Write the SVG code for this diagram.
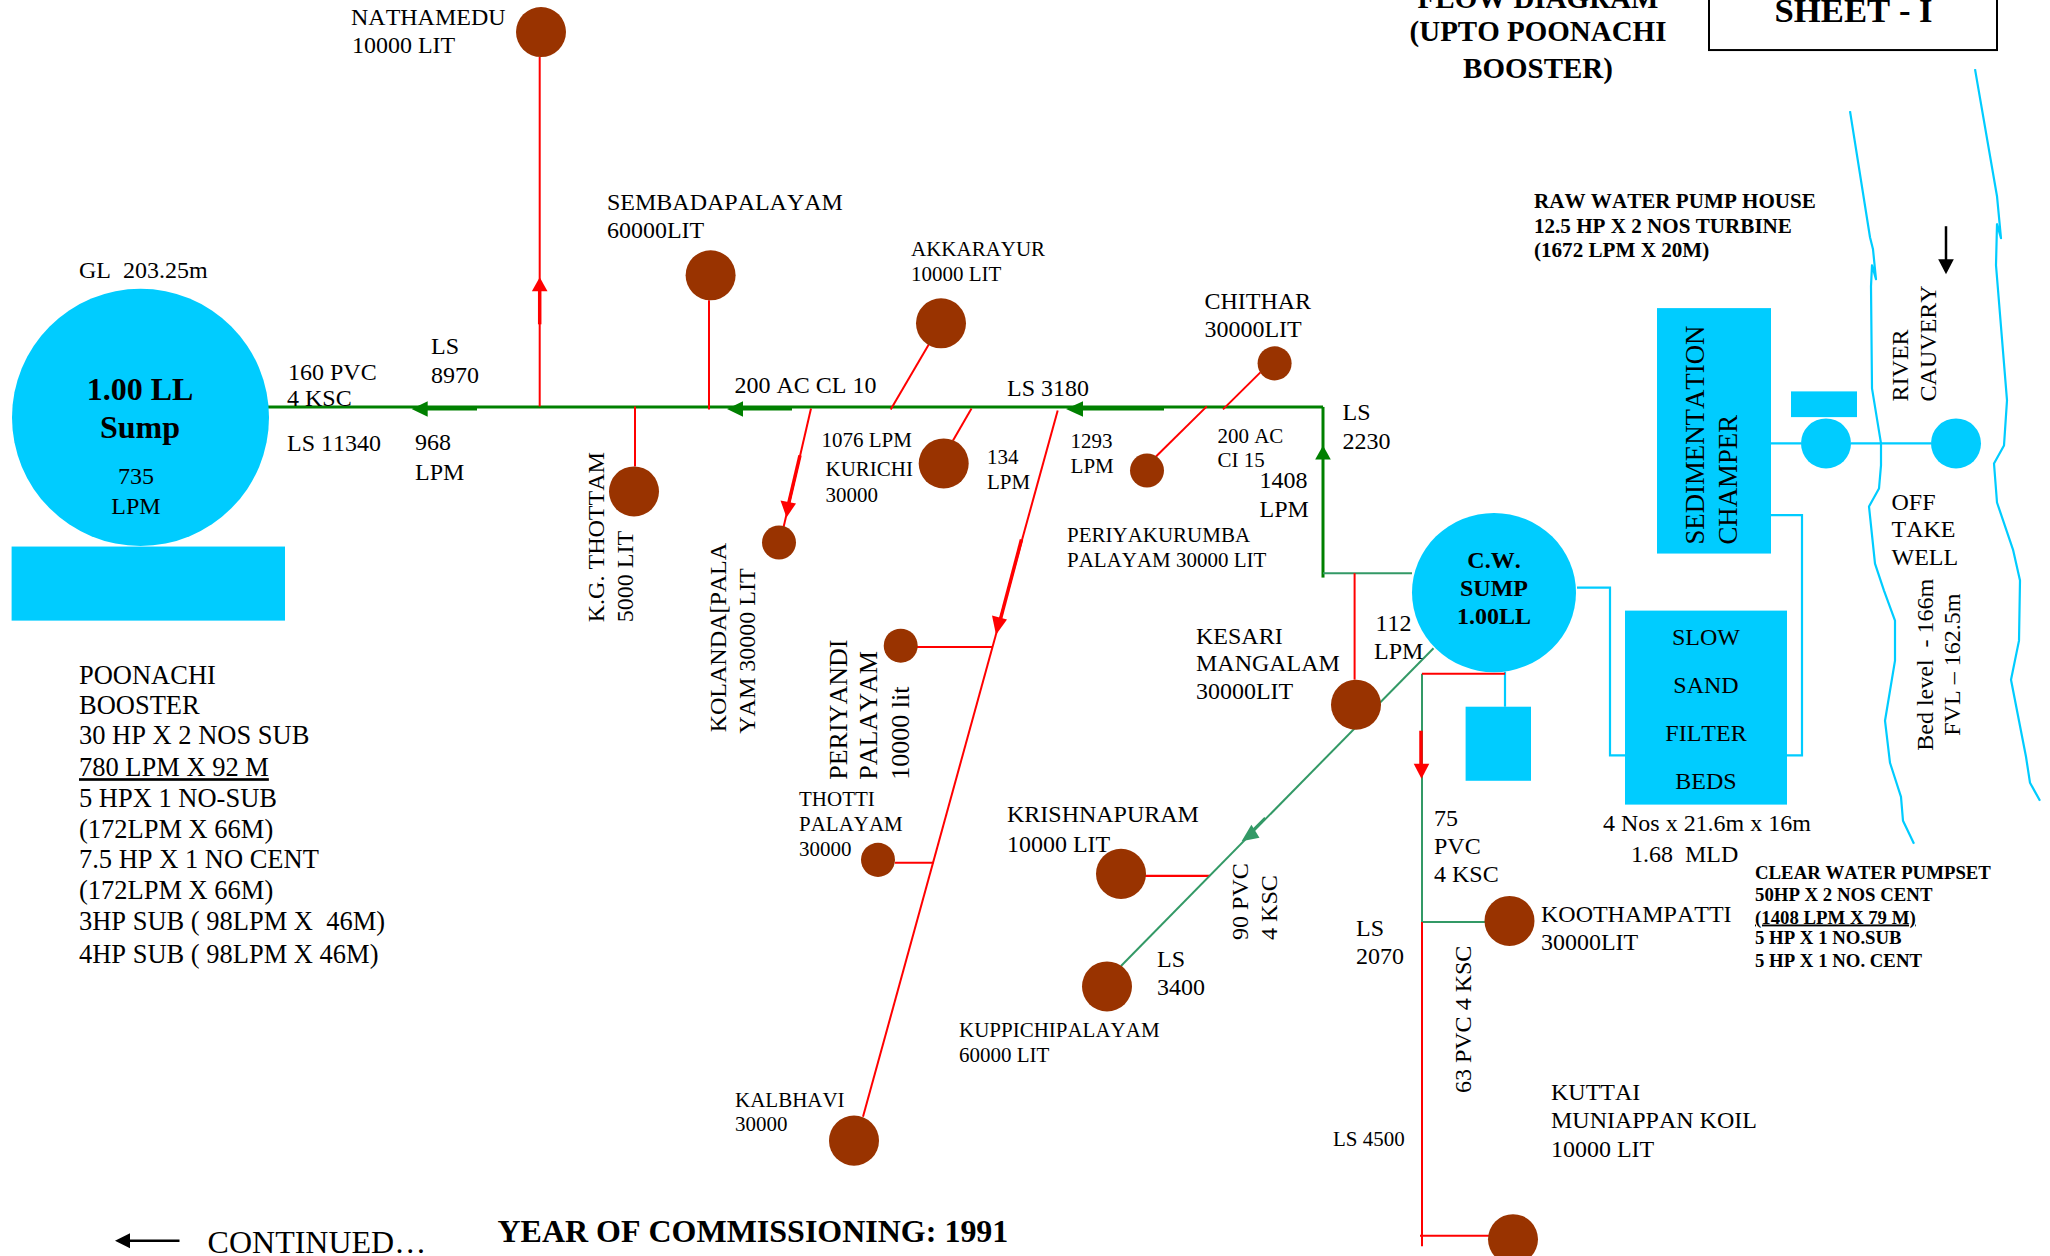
<svg xmlns="http://www.w3.org/2000/svg" width="2050" height="1256" viewBox="0 0 2050 1256">
<style>
text{font-family:"Liberation Serif","Times New Roman",serif;fill:#000;white-space:pre;font-kerning:none}
.m{font-size:24px}.s{font-size:21px}.l{font-size:26.5px}.b{font-weight:bold}.c{text-anchor:middle}
.u{text-decoration:underline}
.tank{fill:#993300}.cy{fill:#00ccff}
line,path,polyline{fill:none}
.r{stroke:#f00;stroke-width:2}.rt{stroke:#f00;stroke-width:3.5}
.gt{stroke:#008000;stroke-width:3}
.sg{stroke:#339966;stroke-width:2}
.w{stroke:#00ccff;stroke-width:2.2}
.ar{fill:#f00}.ag{fill:#008000}.asg{fill:#339966}.ak{fill:#000}
</style>
<rect width="2050" height="1256" fill="#fff"/>
<g transform="scale(1 1.001)">
<g id="connectors">
<path class="w" d="M1771 443H1801M1851 443H1931M1577 587H1610V754.7H1625M1771 514.7H1802V754.7H1787M1505 671V706"/>
<path class="w" stroke-linejoin="round" d="M1850 111L1870 237L1873 249L1876 279L1872 265L1871 286L1872 388L1881 443L1881 465L1879 488L1869 506L1875 563L1884 590L1895 620L1895 660L1885 720L1890 762L1901 796L1903 820L1914 843"/>
<path class="w" stroke-linejoin="round" d="M1975 69L1997 196L2001 238L1997 224L1996 265L2007 400L2004 445L1994 463L1997 502L2013 549L2020 580L2019 640L2011 679L2026 756L2030 782L2040 800"/>
<line class="gt" x1="268" y1="406.5" x2="1323" y2="406.5"/>
<line class="gt" x1="1323" y1="406.5" x2="1323" y2="577"/>
<line class="sg" x1="1323" y1="572.6" x2="1412" y2="572.6"/>
<line class="gt" x1="425" y1="408.6" x2="477" y2="408.6"/>
<polygon class="ag" points="411.6,408.6 427.7,400.8 427.7,416.4"/>
<line class="gt" x1="740" y1="408.6" x2="792" y2="408.6"/>
<polygon class="ag" points="727,408.6 743,400.8 743,416.4"/>
<line class="gt" x1="1080" y1="408.6" x2="1164" y2="408.6"/>
<polygon class="ag" points="1066,408.6 1083,400.8 1083,416.4"/>
<polygon class="ag" points="1323,445 1315.2,459 1330.8,459"/>
<line class="r" x1="539.7" y1="57" x2="539.7" y2="406"/>
<line class="rt" x1="539.7" y1="285" x2="539.7" y2="324"/>
<polygon class="ar" points="539.7,277 531.9,291 547.5,291"/>
<line class="r" x1="635" y1="406" x2="635" y2="466"/>
<line class="r" x1="709" y1="300" x2="709" y2="409"/>
<line class="r" x1="933" y1="337" x2="890.7" y2="409"/>
<line class="r" x1="1260.4" y1="372" x2="1223" y2="409"/>
<line class="r" x1="971.5" y1="408" x2="953" y2="440"/>
<line class="r" x1="1206.8" y1="406" x2="1156" y2="456"/>
<line class="r" x1="811" y1="408" x2="783.6" y2="526.5"/>
<line class="rt" x1="800" y1="455" x2="787" y2="510"/>
<polygon class="ar" points="786.5,517 780.5,500 796,503"/>
<line class="r" x1="1057.7" y1="410" x2="863" y2="1115.7"/>
<line class="rt" x1="1021.5" y1="539" x2="999" y2="624"/>
<polygon class="ar" points="996,634 992,615 1007,619"/>
<line class="r" x1="917" y1="646.4" x2="992.5" y2="646.4"/>
<line class="r" x1="895" y1="862" x2="933.6" y2="862"/>
<line class="r" x1="1145" y1="875" x2="1210" y2="875"/>
<line class="sg" x1="1121" y1="965" x2="1433.5" y2="647.6"/>
<line class="sg" x1="1250" y1="832" x2="1265" y2="817" stroke-width="3"/>
<polygon class="asg" points="1241.6,840.3 1251.4,824 1259.5,837"/>
<line class="r" x1="1354.6" y1="572.6" x2="1354.6" y2="679"/>
<path class="sg" d="M1422 673V921H1485"/>
<path class="r" d="M1422 673H1505" stroke-width="2.5"/>
<line class="rt" x1="1421" y1="730" x2="1421" y2="766"/>
<polygon class="ar" points="1421.5,778 1413.7,763 1429.3,763"/>
<line class="r" x1="1422" y1="921" x2="1422" y2="1245" stroke-width="2.5"/>
<line class="r" x1="1420" y1="1234.6" x2="1490" y2="1234.6" stroke-width="2.5"/>
<line stroke="#000" stroke-width="2.5" x1="1946" y1="226" x2="1946" y2="262"/>
<polygon class="ak" points="1946,274 1938.2,259 1953.8,259"/>
<line stroke="#000" stroke-width="2.5" x1="128" y1="1239.5" x2="179.5" y2="1239.5"/>
<polygon class="ak" points="115,1239.5 130,1232 130,1247"/>
</g>
<g id="sump">
<circle class="cy" cx="140.5" cy="417" r="128.5"/>
<rect class="cy" x="11.6" y="546" width="273.4" height="74"/>
<text class="b c" font-size="32" x="140" y="400">1.00 LL</text>
<text class="b c" font-size="32" x="140" y="437.5">Sump</text>
<text class="m c" x="136" y="484">735</text>
<text class="m c" x="136" y="513">LPM</text>
<text class="m" x="79" y="278">GL  203.25m</text>
</g>
<g id="labels-main">
<text class="m" x="288" y="379.6">160 PVC</text>
<text class="m" x="287" y="406">4 KSC</text>
<text class="m" x="287" y="451">LS 11340</text>
<text class="m" x="431" y="354">LS</text>
<text class="m" x="431" y="383">8970</text>
<text class="m" x="415" y="450">968</text>
<text class="m" x="415" y="479.6">LPM</text>
<text class="m" x="734.5" y="393">200 AC CL 10</text>
<text class="m" x="1007" y="396">LS 3180</text>
<text class="s" x="821.5" y="447">1076 LPM</text>
<text class="s" x="987" y="464">134</text>
<text class="s" x="987" y="489">LPM</text>
<text class="s" x="1070.6" y="448">1293</text>
<text class="s" x="1070.6" y="473">LPM</text>
<text class="s" x="1217.5" y="443">200 AC</text>
<text class="s" x="1217.5" y="467">CI 15</text>
<text class="m" x="1259.5" y="488">1408</text>
<text class="m" x="1259.5" y="516">LPM</text>
<text class="m" x="1342.5" y="420">LS</text>
<text class="m" x="1342.5" y="448.6">2230</text>
<text class="m" x="1375.4" y="630.6">112</text>
<text class="m" x="1374" y="658.5">LPM</text>
<text class="m" transform="translate(1248 939) rotate(-90)">90 PVC</text>
<text class="m" transform="translate(1277 939) rotate(-90)">4 KSC</text>
<text class="m" x="1157" y="966">LS</text>
<text class="m" x="1157" y="994">3400</text>
<text class="s" x="1333" y="1145">LS 4500</text>
<text class="m" x="1434" y="825">75</text>
<text class="m" x="1434" y="853">PVC</text>
<text class="m" x="1434" y="881">4 KSC</text>
<text class="m" x="1356" y="935">LS</text>
<text class="m" x="1356" y="963">2070</text>
<text class="m" transform="translate(1470.5 1092) rotate(-90)">63 PVC 4 KSC</text>
</g>
<g id="nathamedu"><circle class="tank" cx="541" cy="32" r="25"/><text class="m" x="351" y="25">NATHAMEDU</text><text class="m" x="352" y="53">10000 LIT</text></g>
<g id="sembadapalayam"><circle class="tank" cx="710.6" cy="275" r="25"/><text class="m" x="607" y="210">SEMBADAPALAYAM</text><text class="m" x="607" y="238">60000LIT</text></g>
<g id="kg-thottam"><circle class="tank" cx="634" cy="491" r="25"/><text class="m" transform="translate(603.6 621.6) rotate(-90)">K.G. THOTTAM</text><text class="m" transform="translate(633 621.6) rotate(-90)">5000 LIT</text></g>
<g id="akkarayur"><circle class="tank" cx="941" cy="323" r="25"/><text class="s" x="911" y="256">AKKARAYUR</text><text class="s" x="911" y="281">10000 LIT</text></g>
<g id="chithar"><circle class="tank" cx="1274.6" cy="363" r="17"/><text class="m" x="1204.5" y="309">CHITHAR</text><text class="m" x="1204.5" y="336.7">30000LIT</text></g>
<g id="kurichi"><circle class="tank" cx="943.7" cy="463" r="25"/><text class="s" x="825.5" y="476">KURICHI</text><text class="s" x="825.5" y="501">30000</text></g>
<g id="periyakurumba"><circle class="tank" cx="1147" cy="470" r="17"/><text class="s" x="1067" y="541">PERIYAKURUMBA</text><text class="s" x="1067" y="566">PALAYAM 30000 LIT</text></g>
<g id="kolanda"><circle class="tank" cx="779" cy="542" r="17"/><text class="m" transform="translate(726 731.6) rotate(-90)">KOLANDA[PALA</text><text class="m" transform="translate(754.6 733) rotate(-90)">YAM 30000 LIT</text></g>
<g id="periyandi"><circle class="tank" cx="900.7" cy="645" r="17"/><text font-size="26" transform="translate(846.5 779) rotate(-90)">PERIYANDI</text><text font-size="26" transform="translate(877 779) rotate(-90)">PALAYAM</text><text font-size="26" transform="translate(909 779) rotate(-90)">10000 lit</text></g>
<g id="thotti"><circle class="tank" cx="878" cy="859" r="17"/><text class="s" x="799" y="805">THOTTI</text><text class="s" x="799" y="830">PALAYAM</text><text class="s" x="799" y="855">30000</text></g>
<g id="kalbhavi"><circle class="tank" cx="854" cy="1139.5" r="25"/><text class="s" x="735" y="1106">KALBHAVI</text><text class="s" x="735" y="1130">30000</text></g>
<g id="krishnapuram"><circle class="tank" cx="1121" cy="873" r="25"/><text class="m" x="1007" y="821.6">KRISHNAPURAM</text><text class="m" x="1007" y="851">10000 LIT</text></g>
<g id="kuppichipalayam"><circle class="tank" cx="1107" cy="985.5" r="25"/><text class="s" x="959" y="1036">KUPPICHIPALAYAM</text><text class="s" x="959" y="1060.6">60000 LIT</text></g>
<g id="kesari"><circle class="tank" cx="1356" cy="704" r="25"/><text class="m" x="1196" y="643">KESARI</text><text class="m" x="1196" y="670.7">MANGALAM</text><text class="m" x="1196" y="698">30000LIT</text></g>
<g id="koothampatti"><circle class="tank" cx="1509.5" cy="920" r="25"/><text class="m" x="1541" y="921">KOOTHAMPATTI</text><text class="m" x="1541" y="949">30000LIT</text></g>
<g id="kuttai"><circle class="tank" cx="1513" cy="1238" r="25"/><text class="m" x="1551" y="1099">KUTTAI</text><text class="m" x="1551" y="1127">MUNIAPPAN KOIL</text><text class="m" x="1551" y="1156">10000 LIT</text></g>
<g id="cw-sump">
<ellipse class="cy" cx="1494" cy="592" rx="82" ry="79.5"/>
<rect class="cy" x="1465.6" y="706" width="65.4" height="74"/>
<text class="m b c" x="1494" y="567">C.W.</text><text class="m b c" x="1494" y="595">SUMP</text><text class="m b c" x="1494" y="623">1.00LL</text>
</g>
<g id="sedimentation">
<rect class="cy" x="1657" y="307.8" width="114" height="245.2"/>
<text font-size="26.8" transform="translate(1703.6 544) rotate(-90)">SEDIMENTATION</text>
<text font-size="26.8" transform="translate(1736.6 544) rotate(-90)">CHAMPER</text>
</g>
<g id="slow-sand-filter">
<rect class="cy" x="1625" y="610" width="162" height="193.8"/>
<text class="m c" x="1706" y="644.3">SLOW</text><text class="m c" x="1706" y="692">SAND</text><text class="m c" x="1706" y="740">FILTER</text><text class="m c" x="1706" y="788">BEDS</text>
<text class="m" x="1603" y="830">4 Nos x 21.6m x 16m</text>
<text class="m" x="1631" y="861">1.68  MLD</text>
</g>
<g id="raw-pump">
<circle class="cy" cx="1826" cy="443" r="25"/>
<rect class="cy" x="1791" y="391" width="66" height="25.7"/>
<text class="b" font-size="21.1" x="1534" y="208">RAW WATER PUMP HOUSE</text>
<text class="b" font-size="21.1" x="1534" y="233">12.5 HP X 2 NOS TURBINE</text>
<text class="b" font-size="21.1" x="1534" y="257">(1672 LPM X 20M)</text>
</g>
<g id="off-take-well">
<circle class="cy" cx="1956" cy="443" r="25"/>
<text class="m" x="1891.5" y="509">OFF</text><text class="m" x="1891.5" y="536">TAKE</text><text class="m" x="1891.5" y="564.5">WELL</text>
<text class="m" transform="translate(1932.6 750) rotate(-90)">Bed level  - 166m</text>
<text class="m" transform="translate(1960 735) rotate(-90)">FVL – 162.5m</text>
</g>
<g id="river">
<text class="m" transform="translate(1908 401) rotate(-90)">RIVER</text>
<text class="m" transform="translate(1936 401) rotate(-90)">CAUVERY</text>
</g>
<g id="title">
<text class="b c" font-size="29" x="1538" y="7.5">FLOW DIAGRAM</text>
<text class="b c" font-size="29" x="1538" y="41">(UPTO POONACHI</text>
<text class="b c" font-size="29" x="1538" y="77.6">BOOSTER)</text>
<rect x="1709" y="-10" width="288" height="60" fill="none" stroke="#000" stroke-width="2"/>
<text class="b c" font-size="34.7" x="1853.6" y="22.4">SHEET - I</text>
</g>
<g id="booster-notes">
<text class="l" x="79" y="683.7">POONACHI</text>
<text class="l" x="79" y="713.7">BOOSTER</text>
<text class="l" x="79" y="743.7">30 HP X 2 NOS SUB</text>
<text class="l u" x="79" y="775.4">780 LPM X 92 M</text>
<text class="l" x="79" y="805.8">5 HPX 1 NO-SUB</text>
<text class="l" x="79" y="837">(172LPM X 66M)</text>
<text class="l" x="79" y="866.7">7.5 HP X 1 NO CENT</text>
<text class="l" x="79" y="898">(172LPM X 66M)</text>
<text class="l" x="79" y="929">3HP SUB ( 98LPM X  46M)</text>
<text class="l" x="79" y="962">4HP SUB ( 98LPM X 46M)</text>
</g>
<g id="clear-water">
<text class="b" font-size="18.8" x="1755" y="878.4">CLEAR WATER PUMPSET</text>
<text class="b" font-size="18.8" x="1755" y="900">50HP X 2 NOS CENT</text>
<text class="b u" font-size="18.8" x="1755" y="922.6">(1408 LPM X 79 M)</text>
<text class="b" font-size="18.8" x="1755" y="943">5 HP X 1 NO.SUB</text>
<text class="b" font-size="18.8" x="1755" y="965.6">5 HP X 1 NO. CENT</text>
</g>
<g id="footer">
<text font-size="32" x="207.6" y="1252">CONTINUED…</text>
<text class="b" font-size="32" x="497.5" y="1240.7">YEAR OF COMMISSIONING: 1991</text>
</g>
</g>
</svg>
